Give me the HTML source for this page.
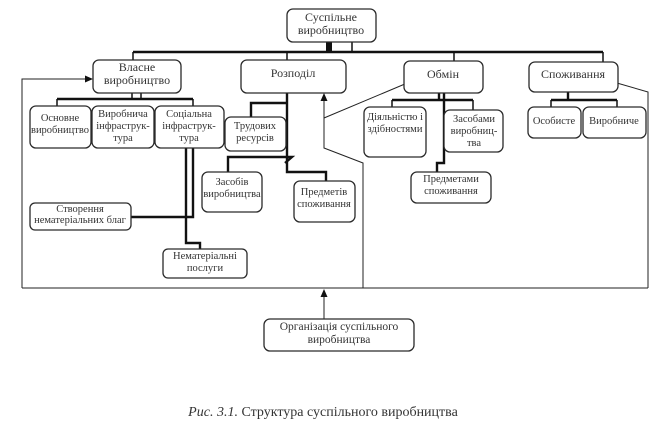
<!DOCTYPE html>
<html><head><meta charset="utf-8"><style>
html,body{margin:0;padding:0;background:#fff;}
svg{display:block;}
text{font-family:"Liberation Serif","DejaVu Serif",serif;fill:#333;text-anchor:middle;}
.b{fill:#fff;stroke:#2a2a2a;stroke-width:1.3;}
.t{stroke:#111;fill:none;stroke-width:2.4;}
.m{stroke:#111;fill:none;stroke-width:1.5;}
.n{stroke:#222;fill:none;stroke-width:1;}
</style></head><body>
<svg width="651" height="423" viewBox="0 0 651 423" xmlns="http://www.w3.org/2000/svg">
<defs><marker id="a" markerWidth="8" markerHeight="8" refX="7" refY="4" orient="auto" markerUnits="userSpaceOnUse"><path d="M0,0.5 L8,4 L0,7.5 z" fill="#111"/></marker></defs>

<!-- thin loop lines -->
<path class="n" d="M22,288 L22,79 L92,79" marker-end="url(#a)"/>
<path class="n" d="M22,288 L648,288"/>
<path class="n" d="M648,288 L648,92 L610,81" marker-end="url(#a)"/>
<path class="n" d="M363,288 L363,163 L324,148 L324,94" marker-end="url(#a)"/>
<path class="n" d="M324,118 L412,81" marker-end="url(#a)"/>
<path class="n" d="M324,319 L324,290" marker-end="url(#a)"/>

<!-- top connectors -->
<rect x="326" y="42" width="6" height="10" fill="#111"/>
<path class="m" d="M352,42 L352,52"/>
<path class="t" d="M133,52 L603,52"/>
<path class="m" d="M133,52 L133,60 M287,52 L287,60 M454,52 L454,61 M603,52 L603,62"/>

<!-- Власне connectors -->
<path class="m" d="M132,93 L132,99 M141,93 L141,99"/>
<path class="t" d="M57,99 L193,99"/>
<path class="m" d="M57,99 L57,106 M193,99 L193,106"/>

<!-- Розподіл connectors -->
<path class="t" d="M287,93 L287,172 L326,172 L326,181"/>
<path class="t" d="M287,103 L251,103 L251,117"/>
<path class="t" d="M228,172 L228,157 L292,157 L285,163"/>

<!-- Соціальна connectors -->
<path class="t" d="M186,148 L186,243 L200,243 L200,249"/>
<path class="t" d="M193,148 L193,217 L131,217"/>

<!-- Обмін connectors -->
<path class="t" d="M439,93 L439,100"/>
<path class="t" d="M392,100 L473,100"/>
<path class="m" d="M392,100 L392,107 M473,100 L473,110"/>
<path class="t" d="M444,93 L444,163 L437,163 L437,172"/>

<!-- Споживання connectors -->
<path class="t" d="M568,92 L568,100"/>
<path class="t" d="M551,100 L617,100"/>
<path class="m" d="M551,100 L551,107 M617,100 L617,107"/>

<!-- boxes -->
<rect class="b" x="287" y="9" width="89" height="33" rx="6"/>
<text x="331" y="21" font-size="12">Суспільне</text>
<text x="331" y="34" font-size="12">виробництво</text>

<rect class="b" x="93" y="60" width="88" height="33" rx="6"/>
<text x="137" y="71" font-size="12">Власне</text>
<text x="137" y="84" font-size="12">виробництво</text>

<rect class="b" x="241" y="60" width="105" height="33" rx="6"/>
<text x="293" y="77" font-size="12">Розподіл</text>

<rect class="b" x="404" y="61" width="79" height="32" rx="6"/>
<text x="443" y="78" font-size="12">Обмін</text>

<rect class="b" x="529" y="62" width="89" height="30" rx="6"/>
<text x="573" y="78" font-size="12">Споживання</text>

<rect class="b" x="30" y="106" width="61" height="42" rx="6"/>
<text x="60" y="121" font-size="10.5">Основне</text>
<text x="60" y="133" font-size="10.5">виробництво</text>

<rect class="b" x="92" y="106" width="62" height="42" rx="6"/>
<text x="123" y="117" font-size="10.5">Виробнича</text>
<text x="123" y="129" font-size="10.5">інфраструк-</text>
<text x="123" y="141" font-size="10.5">тура</text>

<rect class="b" x="155" y="106" width="69" height="42" rx="6"/>
<text x="189" y="117" font-size="10.5">Соціальна</text>
<text x="189" y="129" font-size="10.5">інфраструк-</text>
<text x="189" y="141" font-size="10.5">тура</text>

<rect class="b" x="225" y="117" width="61" height="34" rx="6"/>
<text x="255" y="129" font-size="10.5">Трудових</text>
<text x="255" y="141" font-size="10.5">ресурсів</text>

<rect class="b" x="202" y="172" width="60" height="40" rx="6"/>
<text x="232" y="185" font-size="10.5">Засобів</text>
<text x="232" y="197" font-size="10.5">виробництва</text>

<rect class="b" x="294" y="181" width="61" height="41" rx="6"/>
<text x="324" y="195" font-size="10.5">Предметів</text>
<text x="324" y="207" font-size="10.5">споживання</text>

<rect class="b" x="30" y="203" width="101" height="27" rx="5"/>
<text x="80" y="212" font-size="10.5">Створення</text>
<text x="80" y="223" font-size="10.5">нематеріальних благ</text>

<rect class="b" x="163" y="249" width="84" height="29" rx="5"/>
<text x="205" y="259" font-size="10.5">Нематеріальні</text>
<text x="205" y="271" font-size="10.5">послуги</text>

<rect class="b" x="364" y="107" width="62" height="50" rx="6"/>
<text x="395" y="120" font-size="10.5">Діяльністю і</text>
<text x="395" y="132" font-size="10.5">здібностями</text>

<rect class="b" x="444" y="110" width="59" height="42" rx="6"/>
<text x="474" y="122" font-size="10.5">Засобами</text>
<text x="474" y="134" font-size="10.5">виробниц-</text>
<text x="474" y="146" font-size="10.5">тва</text>

<rect class="b" x="411" y="172" width="80" height="31" rx="6"/>
<text x="451" y="182" font-size="10.5">Предметами</text>
<text x="451" y="194" font-size="10.5">споживання</text>

<rect class="b" x="528" y="107" width="53" height="31" rx="6"/>
<text x="554" y="124" font-size="10.5">Особисте</text>

<rect class="b" x="583" y="107" width="63" height="31" rx="6"/>
<text x="614" y="124" font-size="10.5">Виробниче</text>

<rect class="b" x="264" y="319" width="150" height="32" rx="6"/>
<text x="339" y="330" font-size="11.5">Організація суспільного</text>
<text x="339" y="343" font-size="11.5">виробництва</text>

<text x="323" y="416" font-size="14"><tspan font-style="italic">Рис. 3.1.</tspan> Структура суспільного виробництва</text>
</svg>
</body></html>
